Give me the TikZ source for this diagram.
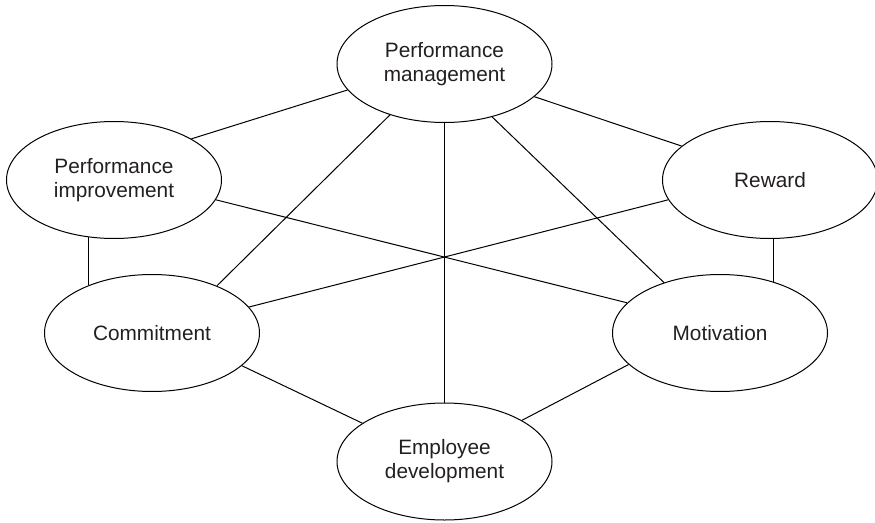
\documentclass[tikz,border=0pt]{standalone}
\usepackage{fontspec}
\setmainfont{Liberation Sans}
\usetikzlibrary{shapes.geometric}
\definecolor{textgray}{HTML}{231F20}
\begin{document}
\begin{tikzpicture}[x=1pt,y=-1pt,
  bub/.style={ellipse,draw=black,line width=1pt,minimum width=215pt,minimum height=117pt,
    inner sep=0pt,align=center,font=\fontsize{20.8}{24}\selectfont,text=textgray},
  link/.style={draw=black,line width=1pt}]
\useasboundingbox (0,0) rectangle (875,522);
\node[bub] (pm)  at (444.5,64)  {Performance\\management};
\node[bub] (pi)  at (114,180)   {Performance\\improvement};
\node[bub] (rew) at (770,180)   {Reward};
\node[bub] (com) at (152,333)   {Commitment};
\node[bub] (mot) at (720,333)   {Motivation};
\node[bub] (ed)  at (444.5,461.5) {Employee\\development};
% links from performance management
\draw[link] (pm.195.5) -- (pi.28.3);
\draw[link] (pm.340.4) -- (rew.159.9);
\draw[link] (pm.223) -- (com.36.4);
\draw[link] (pm.south) -- (ed.north);
\draw[link] (pm.312.5) -- (mot.138.2);
% crossing links
\draw[link] (pi.349.5) -- (mot.162.3);
\draw[link] (rew.191.1) -- (com.15.6);
% side links
\draw[link] (pi.246.7) -- (pi.246.7 |- com.142.7);
\draw[link] (rew.273.9) -- (rew.273.9 |- mot.43.3);
% links to employee development
\draw[link] (com.340.6) -- (ed.155);
\draw[link] (mot.199.2) -- (ed.28.2);
\end{tikzpicture}
\end{document}
